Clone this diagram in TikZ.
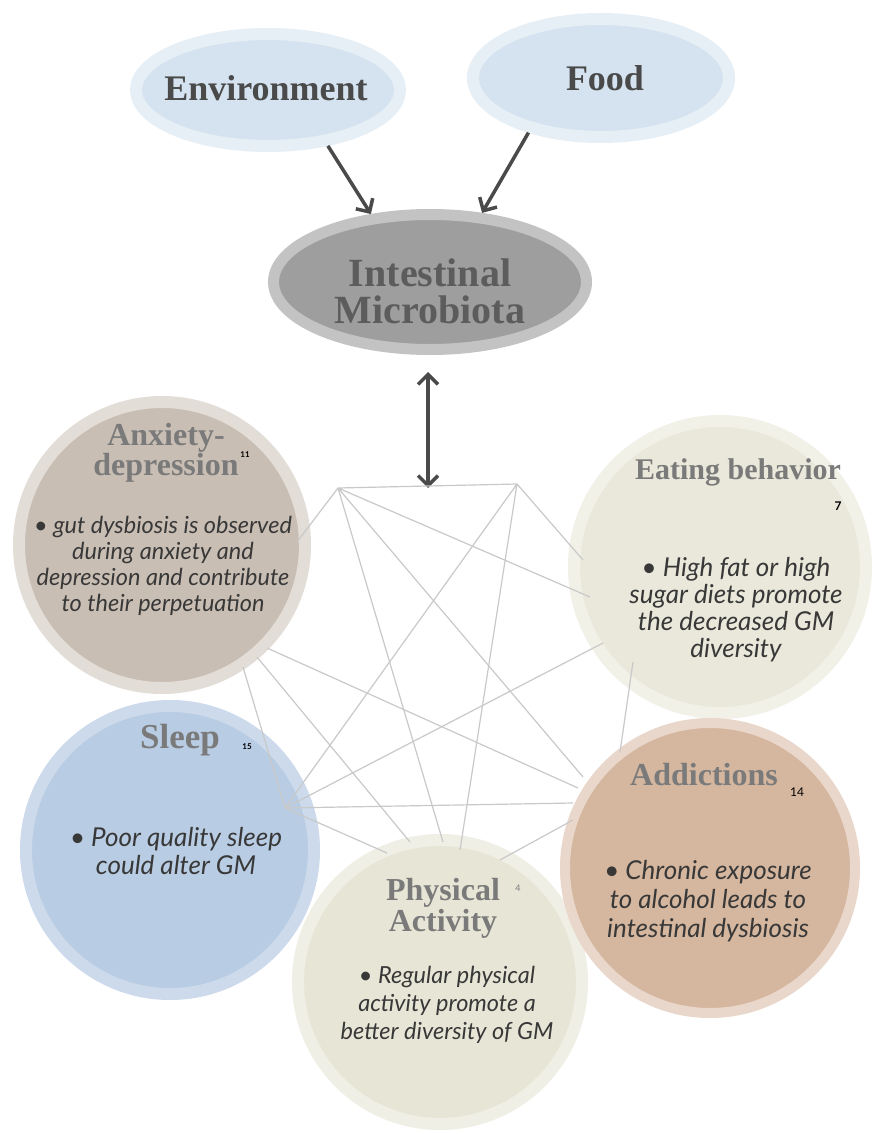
\documentclass[tikz,border=0pt]{standalone}
\usepackage{fontspec}
\setmainfont{Liberation Serif}
\newfontfamily\latofont{Lato}
\usetikzlibrary{shapes.geometric,arrows.meta}
\definecolor{envfill}{HTML}{D4E3EF}
\definecolor{envring}{HTML}{E7EFF6}
\definecolor{microfill}{HTML}{9E9E9E}
\definecolor{microring}{HTML}{C3C3C3}
\definecolor{anxfill}{HTML}{C9BEB4}
\definecolor{anxring}{HTML}{E3DDD7}
\definecolor{eatfill}{HTML}{E9E8DA}
\definecolor{eatring}{HTML}{F2F1E8}
\definecolor{slpfill}{HTML}{B8CCE3}
\definecolor{slpring}{HTML}{CCDAEB}
\definecolor{phyfill}{HTML}{E7E6D6}
\definecolor{phyring}{HTML}{F0EFE5}
\definecolor{addfill}{HTML}{D5B69E}
\definecolor{addring}{HTML}{E8D7CA}
\definecolor{linkgray}{HTML}{C9C9C9}
\definecolor{arrowgray}{HTML}{4A4A4A}
\definecolor{titlegray}{HTML}{7A7A7A}
\definecolor{bodytext}{HTML}{383838}
\begin{document}
\begin{tikzpicture}[x=1pt,y=-1pt,>={Straight Barb[length=10pt,width=20pt]},
    oval/.style={ellipse,line width=12pt,inner sep=0pt},
    blob/.style={circle,line width=12pt,inner sep=0pt},
    bighead/.style={font=\bfseries\fontsize{36}{32}\selectfont,text=arrowgray,align=center,inner sep=0pt},
    heading/.style 2 args={font=\bfseries\fontsize{#1}{#2}\selectfont,text=titlegray,align=center,inner sep=0pt},
    body/.style 2 args={font=\latofont\itshape\fontsize{#1}{#2}\selectfont,text=bodytext,align=center,inner sep=0pt},
    refnum/.style={font=\latofont\bfseries\fontsize{#1}{#1}\selectfont,inner sep=0pt},
    link/.style={linkgray,line width=1.2pt},
    push/.style={arrowgray,line width=3.5pt}]
    \useasboundingbox[fill=white] (0,0) rectangle (872,1134);
    \node[oval,fill=envfill,draw=envring,minimum width=264pt,minimum height=112pt] at (268,90) (env) {};
    \node[oval,fill=envfill,draw=envring,minimum width=256pt,minimum height=118pt] at (601,78) (food) {};
    \node[oval,fill=microfill,draw=microring,minimum width=313pt,minimum height=135pt,line width=11pt] at (430,282) (micro) {};
    \node[bighead] at (266,88) (envtxt) {Environment};
    \node[bighead] at (605,78) (foodtxt) {Food};
    \node[bighead,font=\bfseries\fontsize{40}{37}\selectfont,text=arrowgray!90] at (430,291) (microtxt) {Intestinal\\Microbiota};
    \draw[push,->] (env.-43) -- (micro.131);
    \draw[push,->] (food.217) -- (micro.53);
    \coordinate (top) at (428,372);
    \coordinate (hub) at (428,488);
    \draw[push,<->] (top) -- (hub);

    \node[blob,fill=anxfill,draw=anxring,minimum size=286pt] at (162,545) (anx) {};
    \node[blob,fill=eatfill,draw=eatring,minimum size=292pt] at (720,567) (eat) {};
    \node[blob,fill=slpfill,draw=slpring,minimum size=288pt] at (170,850) (slp) {};
    \node[blob,fill=phyfill,draw=phyring,minimum size=284pt] at (440,982) (phy) {};
    \node[blob,fill=addfill,draw=addring,minimum size=290pt,line width=10pt] at (710,868) (add) {};

    \coordinate (tl) at (338,488);
    \coordinate (tr) at (517,484);
    \coordinate (anxA) at (297,542);
    \coordinate (anxB) at (267,648);
    \coordinate (anxC) at (257,657);
    \coordinate (anxD) at (243,667);
    \coordinate (eatA) at (583,560);
    \coordinate (eatB) at (590,597);
    \coordinate (eatC) at (603,643);
    \coordinate (eatD) at (633,662);
    \coordinate (slpA) at (285,808);
    \coordinate (addA) at (583,777);
    \coordinate (addB) at (578,788);
    \coordinate (addC) at (573,803);
    \coordinate (addD) at (620,752);
    \coordinate (addE) at (573,820);
    \coordinate (phyA) at (443,842);
    \coordinate (phyB) at (460,850);
    \coordinate (phyC) at (410,842);
    \coordinate (phyD) at (387,853);
    \coordinate (phyE) at (500,860);
    \draw[link] (tl) -- (tr) (tl) -- (anxA) (tl) -- (phyA) (tl) -- (eatB) (tl) -- (addA);
    \draw[link] (tr) -- (eatA) (tr) -- (slpA) (tr) -- (phyB);
    \draw[link] (anxB) -- (addB) (anxC) -- (phyC) (anxD) -- (slpA);
    \draw[link] (slpA) -- (addC) (slpA) -- (phyD) (slpA) -- (eatC);
    \draw[link] (eatD) -- (addD) (phyE) -- (addE);

    \node[heading={32}{29}] at (166,453) (anxhead) {Anxiety-\\depression};
    \node[refnum=8] at (245,455) (anxref) {11};
    \node[body={23.5}{26}] at (163,566) (anxtxt) {\textbullet{} gut dysbiosis is observed\\during anxiety and\\depression and contribute\\to their perpetuation};
    \node[heading={30}{27}] at (738,472) (eathead) {Eating behavior};
    \node[refnum=12] at (838,506) (eatref) {7};
    \node[body={26}{27}] at (736,610) (eattxt) {\textbullet{} High fat or high\\sugar diets promote\\the decreased GM\\diversity};
    \node[heading={35}{30}] at (180,740) (slphead) {Sleep};
    \node[refnum=8] at (247,747) (slpref) {15};
    \node[body={26}{28}] at (176,851) (slptxt) {\textbullet{} Poor quality sleep\\could alter GM};
    \node[heading={32}{31}] at (443,908) (phyhead) {Physical\\Activity};
    \node[refnum=9,font=\latofont\fontsize{9}{9}\selectfont,text=titlegray] at (518,888) (phyref) {4};
    \node[body={23.5}{28}] at (447,1005) (phytxt) {\textbullet{} Regular physical\\activity promote a\\better diversity of GM};
    \node[heading={32}{29}] at (704,775) (addhead) {Addictions};
    \node[refnum=12,font=\latofont\fontsize{12}{12}\selectfont] at (797,792) (addref) {14};
    \node[body={26}{29}] at (708,901) (addtxt) {\textbullet{} Chronic exposure\\to alcohol leads to\\intestinal dysbiosis};
\end{tikzpicture}
\end{document}
